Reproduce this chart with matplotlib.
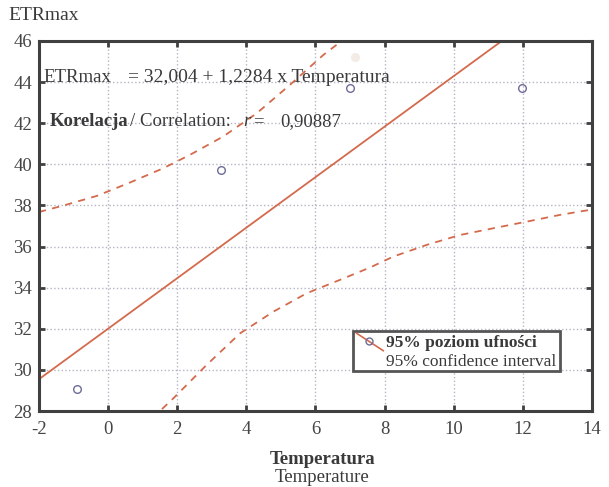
import matplotlib
matplotlib.use("Agg")
from matplotlib import pyplot as plt
from matplotlib.lines import Line2D
from matplotlib.patches import Rectangle

plt.rcParams['font.family'] = ['Liberation Serif', 'DejaVu Serif']

# measured points
temp = [-0.9, 3.27, 7.0, 11.98]
etr = [29.05, 39.72, 43.71, 43.71]
# faint point near the top (almost invisible in the original)
temp_faint = [7.14]
etr_faint = [45.2]

# regression line
fit_intercept = 32.004
fit_slope = 1.2284
x_range = [-2, 14]

# 95% confidence bands
upper_x = [-2.0, -1.30, -0.33, 0.63, 1.60, 2.37, 3.33, 4.30, 5.26, 6.23, 6.76, 7.0]
upper_y = [37.68, 37.99, 38.46, 39.11, 39.81, 40.46, 41.35, 42.48, 43.86, 45.32, 46.0, 46.6]
lower_x = [1.30, 1.50, 1.89, 2.85, 3.82, 4.78, 5.75, 6.71, 7.58, 8.25, 9.22,
           10.18, 11.15, 12.11, 13.08, 14.0]
lower_y = [27.6, 28.0, 28.62, 30.24, 31.78, 32.83, 33.73, 34.38, 34.98, 35.51, 36.08,
           36.56, 36.89, 37.21, 37.54, 37.80]

xticks = [-2, 0, 2, 4, 6, 8, 10, 12, 14]
yticks = [28, 30, 32, 34, 36, 38, 40, 42, 44, 46]

red = "#d46a4c"
txt = "#3a3a3a"
spine = "#404040"

fig = plt.figure(figsize=(6.09, 4.87), dpi=100)
ax = fig.add_axes([0.064, 0.156, 0.908, 0.760])

fit_y = [fit_intercept + fit_slope * x for x in x_range]
ax.plot(x_range, fit_y, color=red, lw=1.3)
ax.plot(upper_x, upper_y, color=red, lw=1.3, ls=(0, (4, 3.5)))
ax.plot(lower_x, lower_y, color=red, lw=1.3, ls=(0, (4, 3.5)))

ax.plot(temp, etr, "o", mfc="none", mec="#6c6c98", ms=5.5, mew=1.0)
ax.plot(temp_faint, etr_faint, "o", mfc="#f3ebe4", mec="#f3ebe4", ms=5.5)

ax.set_xlim(-2, 14)
ax.set_ylim(28, 46)
ax.set_xticks(xticks)
ax.set_yticks(yticks)
ax.set_xticklabels([str(v) for v in xticks])
ax.set_yticklabels([str(v) for v in yticks])
ax.grid(True, ls=":", color="#b4b4c4", lw=1.0)
ax.tick_params(direction="in", length=4, width=2, color=spine,
               top=True, right=True, labelsize=13.5, labelcolor="#454545")
ax.tick_params(axis="x", pad=7)
ax.tick_params(axis="y", pad=5)
for s in ax.spines.values():
    s.set_color(spine)
    s.set_linewidth(2.2)

# regression equation and correlation
ta = ax.transAxes
eq_y = 0.900
ax.text(0.0072, eq_y, "ETRmax", transform=ta, fontsize=13.5, color=txt, va="center")
ax.text(0.6347, eq_y, "= 32,004 + 1,2284 x Temperatura", transform=ta,
        fontsize=14, color=txt, va="center", ha="right")

ax.text(0.0199, 0.781, "Korelacja", transform=ta, fontsize=13.5,
        fontweight="bold", color=txt, va="center")
ax.text(0.1646, 0.781, "/ Correlation:", transform=ta, fontsize=13.5,
        color=txt, va="center")
ax.text(0.369, 0.781, "r", transform=ta, fontsize=13.5, style="italic",
        color=txt, va="center")
ax.text(0.388, 0.781, "=", transform=ta, fontsize=13.5, color=txt, va="center")
ax.text(0.4358, 0.781, "0,90887", transform=ta, fontsize=13.5, color=txt, va="center")

# legend box drawn by hand (diagonal handle as in the original)
ax.add_patch(Rectangle((0.568, 0.108), 0.374, 0.108, transform=ta,
                       fc="white", ec="#555555", lw=2, zorder=5))
ax.add_line(Line2D([0.5745, 0.6226], [0.210, 0.163], transform=ta,
                   color=red, lw=1.2, zorder=6))
ax.add_line(Line2D([0.5967], [0.190], transform=ta, marker="o",
                   mfc="none", mec="#6c6c98", ms=5, mew=1.0, zorder=7))
ax.text(0.627, 0.183, "95% poziom ufności", transform=ta,
        fontsize=12.5, fontweight="bold", color=txt, va="center", zorder=7)
ax.text(0.627, 0.133, "95% confidence interval", transform=ta,
        fontsize=12.5, color=txt, va="center", zorder=7)

fig.text(0.013, 0.969, "ETRmax", fontsize=14, color=txt, va="center", ha="left")
fig.text(0.529, 0.057, "Temperatura", fontsize=13.5, fontweight="bold", color=txt,
         va="center", ha="center")
fig.text(0.529, 0.019, "Temperature", fontsize=13.5, color=txt,
         va="center", ha="center")

fig.savefig("out.png", dpi=100)
